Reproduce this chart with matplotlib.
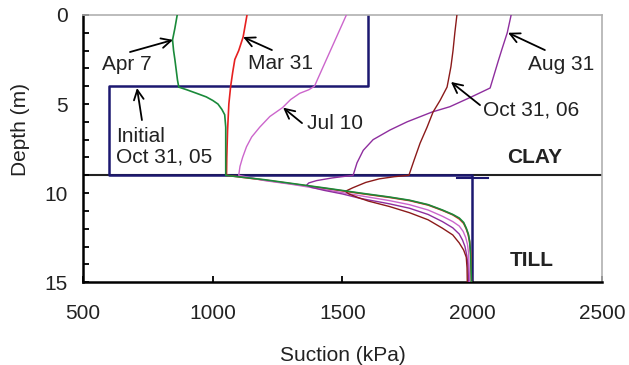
import matplotlib
matplotlib.use("Agg")
import matplotlib.pyplot as plt

plt.rcParams['font.family'] = ['Liberation Sans', 'DejaVu Sans']

# ---- data (suction kPa, depth m) ----
initial_s = [1600, 1600, 600, 600, 2000, 2000]
initial_d = [0, 4, 4, 9, 9, 15]

till_upper_s = [1077, 1200, 1300, 1450, 1569, 1680, 1758, 1830, 1885, 1925,
                1950, 1967, 1977, 1985, 1990, 1994, 1997]
till_upper_d = [9.05, 9.25, 9.45, 9.75, 10.0, 10.22, 10.4, 10.65, 10.95, 11.2,
                11.4, 11.65, 11.97, 12.3, 12.7, 13.5, 15]

apr7_s = [863, 854, 845, 849, 854, 864, 869, 900, 938, 975, 1000, 1020, 1035,
          1046, 1050, 1050] + till_upper_s
apr7_d = [0, 0.75, 1.4, 2.0, 2.5, 3.65, 4.05, 4.2, 4.4, 4.6, 4.8, 5.0, 5.3,
          5.6, 6.3, 9.0] + till_upper_d

mar31_s = [1132, 1117, 1100, 1085, 1077, 1069, 1062, 1057, 1054, 1053,
           1200, 1300, 1450, 1569, 1680, 1758, 1830, 1885, 1925, 1950, 1967,
           1977, 1985, 1990, 1995, 1997]
mar31_d = [0, 1.24, 2.0, 2.5, 3.2, 4.0, 5.0, 6.5, 8.0, 9.0,
           9.27, 9.47, 9.77, 10.02, 10.24, 10.42, 10.67, 10.97, 11.22, 11.45,
           11.7, 12.0, 12.35, 12.75, 13.5, 15]

jul10_s = [1515, 1475, 1438, 1392, 1370, 1335, 1300, 1269, 1220, 1181, 1150,
           1130, 1115, 1105, 1100,
           1200, 1300, 1450, 1569, 1680, 1758, 1830, 1885, 1925, 1950, 1965,
           1975, 1982, 1986, 1990]
jul10_d = [0, 1.3, 2.5, 4.0, 4.2, 4.4, 4.75, 5.2, 5.7, 6.3, 6.85,
           7.4, 8.0, 8.5, 9.0,
           9.3, 9.5, 9.85, 10.15, 10.42, 10.65, 10.95, 11.3, 11.6, 11.85, 12.15,
           12.5, 12.9, 13.4, 15]

oct06_s = [1941, 1933, 1926, 1918, 1907, 1903, 1876, 1849, 1826, 1799, 1776,
           1756,
           1700, 1642, 1590, 1540, 1511, 1525, 1560, 1600, 1680, 1758, 1830,
           1885, 1925, 1950, 1967, 1977, 1980, 1981]
oct06_d = [0, 1.0, 2.0, 2.9, 3.75, 4.05, 4.8, 5.45, 6.3, 7.2, 8.15,
           9.0,
           9.08, 9.2, 9.4, 9.7, 9.9, 10.05, 10.25, 10.45, 10.75, 11.1, 11.5,
           11.97, 12.35, 12.8, 13.2, 13.6, 14.2, 15]

aug31_s = [2150, 2135, 2115, 2100, 2069, 1997, 1914, 1845, 1749, 1683, 1618,
           1580, 1556, 1541,
           1460, 1400, 1370, 1362, 1380, 1430, 1500, 1569, 1680, 1758, 1830,
           1885, 1925, 1950, 1963, 1972, 1979, 1983, 1986]
aug31_d = [0, 1.0, 1.9, 2.6, 4.1, 4.6, 5.15, 5.45, 6.0, 6.46, 7.0,
           7.6, 8.3, 9.0,
           9.15, 9.3, 9.43, 9.55, 9.68, 9.85, 10.05, 10.3, 10.6, 10.85, 11.2,
           11.6, 11.95, 12.3, 12.65, 13.0, 13.5, 14.0, 15]

x_ticks = [500, 1000, 1500, 2000, 2500]
y_ticks = [0, 5, 10, 15]
clay_till_depth = 9

fig = plt.figure(figsize=(6.29, 3.65), dpi=100)
ax = fig.add_axes([0.132, 0.227, 0.825, 0.732])

ax.axhline(clay_till_depth, color='#222222', lw=1.5, zorder=1)
ax.plot(initial_s, initial_d, color='#1c1870', lw=1.8, zorder=2)
cap = 60
ax.plot([initial_s[-1] - cap, initial_s[-1] + cap], [clay_till_depth + 0.15] * 2,
        color='#1c1870', lw=1.5, zorder=2)
ax.plot(mar31_s, mar31_d, color='#e62020', lw=1.2, zorder=3)
ax.plot(jul10_s, jul10_d, color='#cc66cc', lw=1.0, zorder=3)
ax.plot(aug31_s, aug31_d, color='#8e2e9e', lw=1.0, zorder=3)
ax.plot(oct06_s, oct06_d, color='#8b1a1a', lw=1.0, zorder=3)
ax.plot(apr7_s, apr7_d, color='#1a8a3a', lw=1.2, zorder=4)

ax.set_xlim(500, 2500)
ax.set_ylim(15, 0)
ax.set_xticks(x_ticks)
ax.set_yticks(y_ticks)
ax.set_yticks(range(0, 16), minor=True)
ax.tick_params(axis='both', which='both', direction='in', length=4.5, width=1.3,
               labelsize=15, colors='black')
ax.tick_params(axis='x', pad=16)
ax.tick_params(axis='y', pad=11)
for lab in ax.get_xticklabels() + ax.get_yticklabels():
    lab.set_color('#222222')

for s in ['top', 'right']:
    ax.spines[s].set_color('#b0b0b0')
    ax.spines[s].set_linewidth(1.2)
for s in ['left', 'bottom']:
    ax.spines[s].set_color('black')
    ax.spines[s].set_linewidth(1.8)

ax.set_xlabel('Suction (kPa)', fontsize=15, color='#222222', labelpad=16)
ax.set_ylabel('Depth (m)', fontsize=15, color='#222222', labelpad=6)
ax.yaxis.set_label_coords(-0.103, 0.57)

arrow = dict(arrowstyle='->,head_length=0.7,head_width=0.35', color='black', lw=1.3,
             shrinkA=0, shrinkB=0)
fs = 15
tc = '#222222'

ax.text(573, 2.8, 'Apr 7', fontsize=fs, color=tc, ha='left', va='center')
ax.annotate('', xy=(847, 1.4), xytext=(681, 2.08), arrowprops=arrow)

ax.text(1136, 2.7, 'Mar 31', fontsize=fs, color=tc, ha='left', va='center')
ax.annotate('', xy=(1117, 1.24), xytext=(1228, 1.97), arrowprops=arrow)

ax.text(627, 7.4, 'Initial\nOct 31, 05', fontsize=fs, color=tc, ha='left',
        va='center', linespacing=1.05)
ax.annotate('', xy=(708, 4.1), xytext=(727, 5.9), arrowprops=arrow)

ax.text(1363, 6.07, 'Jul 10', fontsize=fs, color=tc, ha='left', va='center')
ax.annotate('', xy=(1271, 5.2), xytext=(1344, 6.07), arrowprops=arrow)

ax.text(2215, 2.8, 'Aug 31', fontsize=fs, color=tc, ha='left', va='center')
ax.annotate('', xy=(2138, 1.0), xytext=(2280, 1.97), arrowprops=arrow)

ax.text(2041, 5.34, 'Oct 31, 06', fontsize=fs, color=tc, ha='left', va='center')
ax.annotate('', xy=(1918, 3.76), xytext=(2030, 5.06), arrowprops=arrow)

ax.text(2134, 8.0, 'CLAY', fontsize=fs, fontweight='bold', color=tc,
        ha='left', va='center')
ax.text(2145, 13.76, 'TILL', fontsize=fs, fontweight='bold', color=tc,
        ha='left', va='center')

fig.savefig('out.png', dpi=100)
